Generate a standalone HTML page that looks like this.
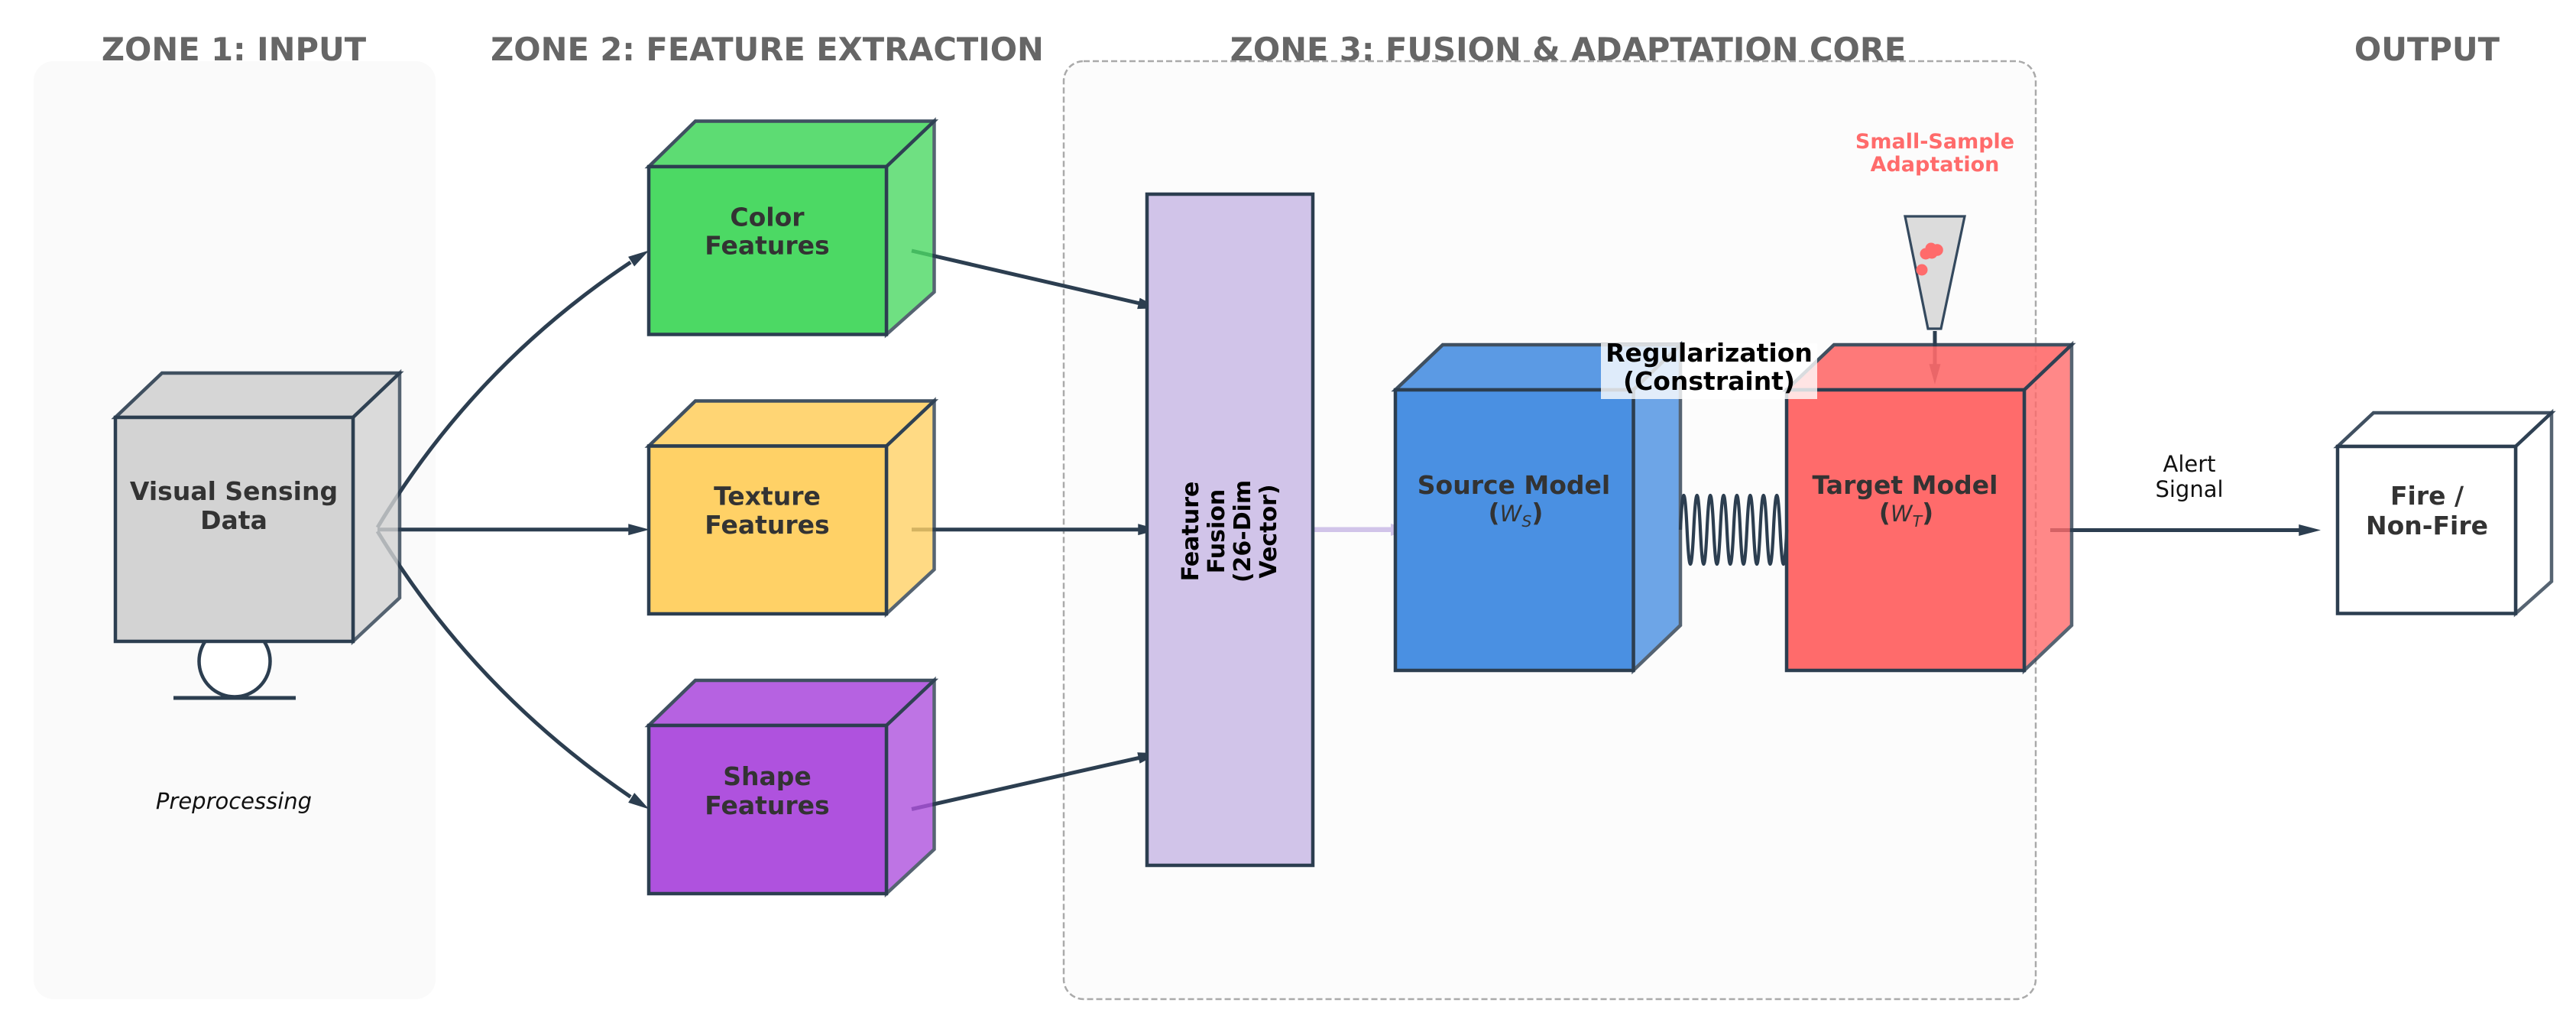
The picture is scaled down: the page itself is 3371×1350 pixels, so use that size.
<!DOCTYPE html>
<html>
<head>
<meta charset="utf-8">
<style>
html,body{margin:0;padding:0;background:#fff}
svg{display:block}
text{font-family:"DejaVu Sans","Liberation Sans",sans-serif}
.t{font-size:41.6px;font-weight:bold;fill:#666;text-anchor:middle}
.l{font-size:33px;font-weight:bold;fill:#333;text-anchor:middle}
.r{font-size:33px;font-weight:bold;fill:#000;text-anchor:middle}
.v{font-size:30px;font-weight:bold;fill:#000;text-anchor:middle}
.m{font-size:33px;font-weight:bold;fill:#333;text-anchor:middle}
.w{font-size:29px;font-weight:normal;font-style:italic}
.s{font-size:20.5px;font-weight:normal;font-style:italic}
.a{fill:none;stroke:#2c3e50;stroke-width:5}
.h{fill:#2c3e50;stroke:#2c3e50;stroke-width:1.5}
.e{stroke:#2c3e50;stroke-width:4.5}
</style>
</head>
<body>
<svg xmlns="http://www.w3.org/2000/svg" width="3371" height="1350" viewBox="0 0 3371 1350">
<rect width="3371" height="1350" fill="#fff"/>

<!-- zone panels -->
<rect x="44" y="80" width="526" height="1227" rx="26" fill="#fafafa"/>
<rect x="1392" y="80" width="1272" height="1227" rx="26" fill="#fcfcfc" stroke="#aaa" stroke-width="2.5" stroke-dasharray="8 4"/>

<!-- titles -->
<text class="t" x="306" y="79">ZONE 1: INPUT</text>
<text class="t" x="1004" y="79">ZONE 2: FEATURE EXTRACTION</text>
<text class="t" x="2052" y="79">ZONE 3: FUSION &amp; ADAPTATION CORE</text>
<text class="t" x="3176" y="79">OUTPUT</text>

<!-- pedestal -->
<circle cx="307" cy="865" r="46.5" fill="#fff" stroke="#2c3e50" stroke-width="4.5"/>
<line x1="227" y1="913" x2="387" y2="913" stroke="#2c3e50" stroke-width="5"/>

<!-- arrows beneath cubes -->
<path class="a" d="M494 690 Q620.4 479.2 825.2 343.1"/>
<polygon class="h" points="847,329 830.2,347.3 823.2,336.3"/>
<path class="a" d="M494 692.7 L825 692.7"/>
<polygon class="h" points="847,692.7 823,686.2 823,699.2"/>
<path class="a" d="M494 695 Q620.4 903 825.2 1042.4"/>
<polygon class="h" points="847,1057 830.3,1038.4 823.3,1049.4"/>

<path class="a" d="M1193 328 L1492 397"/>
<polygon class="h" points="1514,402.5 1489.1,403.4 1492.1,390.8"/>
<path class="a" d="M1193 692.7 L1492 692.7"/>
<polygon class="h" points="1514,692.7 1490,686.2 1490,699.2"/>
<path class="a" d="M1193 1058.5 L1491 991.3"/>
<polygon class="h" points="1514,986 1492,997.6 1489.2,985"/>

<path fill="none" stroke="#d1c4e9" stroke-width="6.5" d="M1718 692.7 L1822 692.7"/>
<polygon fill="#d1c4e9" points="1845,692.7 1820,685 1820,701"/>

<path class="a" d="M2683 693.5 L3012 693.5"/>
<polygon class="h" points="3034,693.5 3009,687 3009,700"/>

<path class="a" d="M2532 433 L2532 480"/>
<polygon class="h" points="2532,500 2525.5,477 2538.5,477"/>

<!-- gray cube -->
<polygon class="e" opacity=".9" fill="#d3d3d3" points="151,546 212,488 523,488 462,546"/>
<polygon class="e" opacity=".8" fill="#d3d3d3" points="462,546 523,488 523,782 462,839"/>
<rect class="e" x="151" y="546" width="311" height="293" fill="#d3d3d3"/>

<!-- green cube -->
<polygon class="e" opacity=".9" fill="#4cd964" points="849,218 910,158.5 1222.5,158.5 1160,218"/>
<polygon class="e" opacity=".8" fill="#4cd964" points="1160,218 1222.5,158.5 1222.5,382 1160,437.5"/>
<rect class="e" x="849" y="218" width="311" height="219.5" fill="#4cd964"/>

<!-- yellow cube -->
<polygon class="e" opacity=".9" fill="#ffd166" points="849,583.5 910,524.5 1222.5,524.5 1160,583.5"/>
<polygon class="e" opacity=".8" fill="#ffd166" points="1160,583.5 1222.5,524.5 1222.5,745 1160,803"/>
<rect class="e" x="849" y="583.5" width="311" height="219.5" fill="#ffd166"/>

<!-- purple cube -->
<polygon class="e" opacity=".9" fill="#af52de" points="849,949 910,890 1222.5,890 1160,949"/>
<polygon class="e" opacity=".8" fill="#af52de" points="1160,949 1222.5,890 1222.5,1111 1160,1169"/>
<rect class="e" x="849" y="949" width="311" height="220" fill="#af52de"/>

<!-- fusion box -->
<rect class="e" x="1501" y="254" width="217" height="878" fill="#d1c4e9"/>

<!-- source model -->
<polygon class="e" opacity=".9" fill="#4a90e2" points="1826,510 1888,451 2199,451 2137.5,510"/>
<polygon class="e" opacity=".8" fill="#4a90e2" points="2137.5,510 2199,451 2199,818 2137.5,877"/>
<rect class="e" x="1826" y="510" width="311.5" height="367" fill="#4a90e2"/>

<!-- target model -->
<polygon class="e" opacity=".9" fill="#ff6b6b" points="2338,510 2400,451 2711,451 2649,510"/>
<polygon class="e" opacity=".8" fill="#ff6b6b" points="2649,510 2711,451 2711,818 2649,877"/>
<rect class="e" x="2338" y="510" width="311" height="367" fill="#ff6b6b"/>

<!-- spring -->
<path fill="none" stroke="#2c3e50" stroke-width="4.2" d="M2199 693 q4.35 -90 8.7 0 t8.7 0 t8.7 0 t8.7 0 t8.7 0 t8.7 0 t8.7 0 t8.7 0 t8.7 0 t8.7 0 t8.7 0 t8.7 0 t8.7 0 t8.7 0 t8.7 0 t8.7 0"/>

<!-- output cube -->
<polygon class="e" opacity=".9" fill="#fff" points="3059,584 3106,540 3339,540 3292,584"/>
<polygon class="e" opacity=".8" fill="#fff" points="3292,584 3339,540 3339,760.6 3292,802.5"/>
<rect class="e" x="3059" y="584" width="233" height="218.5" fill="#fff"/>

<!-- funnel -->
<polygon fill="#dcdcdc" stroke="#34495e" stroke-width="3.2" points="2493,283 2571,283 2540,430 2523,430"/>
<circle cx="2520" cy="332" r="7.5" fill="#ff6b6b"/>
<circle cx="2527" cy="325" r="7.5" fill="#ff6b6b"/>
<circle cx="2535" cy="327" r="7.8" fill="#ff6b6b"/>
<circle cx="2528" cy="331" r="7.5" fill="#ff6b6b"/>
<circle cx="2515" cy="353" r="7.5" fill="#ff6b6b"/>
<text x="2532" y="194" font-size="27" font-weight="bold" fill="#ff6b6b" text-anchor="middle">Small-Sample</text>
<text x="2532" y="224" font-size="27" font-weight="bold" fill="#ff6b6b" text-anchor="middle">Adaptation</text>

<!-- labels -->
<text class="l" x="306" y="654">Visual Sensing</text>
<text class="l" x="306" y="692">Data</text>
<text x="306" y="1058" font-size="29" font-style="italic" fill="#111" text-anchor="middle">Preprocessing</text>

<text class="l" x="1004" y="295.5">Color</text>
<text class="l" x="1004" y="332.5">Features</text>
<text class="l" x="1004" y="660.5">Texture</text>
<text class="l" x="1004" y="698">Features</text>
<text class="l" x="1004" y="1027">Shape</text>
<text class="l" x="1004" y="1065">Features</text>

<text class="v" transform="translate(1568 695) rotate(-90)">Feature</text>
<text class="v" transform="translate(1602 695) rotate(-90)">Fusion</text>
<text class="v" transform="translate(1636 695) rotate(-90)">(26-Dim</text>
<text class="v" transform="translate(1670 695) rotate(-90)">Vector)</text>

<text class="l" x="1981" y="646">Source Model</text>
<text class="m" x="1983.5" y="682">(<tspan class="w">W</tspan><tspan class="s" dy="7">S</tspan><tspan dy="-7">)</tspan></text>
<text class="l" x="2493" y="646">Target Model</text>
<text class="m" x="2494.5" y="682">(<tspan class="w">W</tspan><tspan class="s" dy="7">T</tspan><tspan dy="-7">)</tspan></text>

<text x="2865" y="617" font-size="29" fill="#111" text-anchor="middle">Alert</text>
<text x="2865" y="650" font-size="29" fill="#111" text-anchor="middle">Signal</text>

<text class="l" x="3176" y="660">Fire /</text>
<text class="l" x="3176" y="699">Non-Fire</text>

<!-- regularization label -->
<rect x="2095" y="449" width="283" height="73" fill="#fff" fill-opacity=".8"/>
<text class="r" x="2236.5" y="473">Regularization</text>
<text class="r" x="2236.5" y="510">(Constraint)</text>
</svg>
</body>
</html>
